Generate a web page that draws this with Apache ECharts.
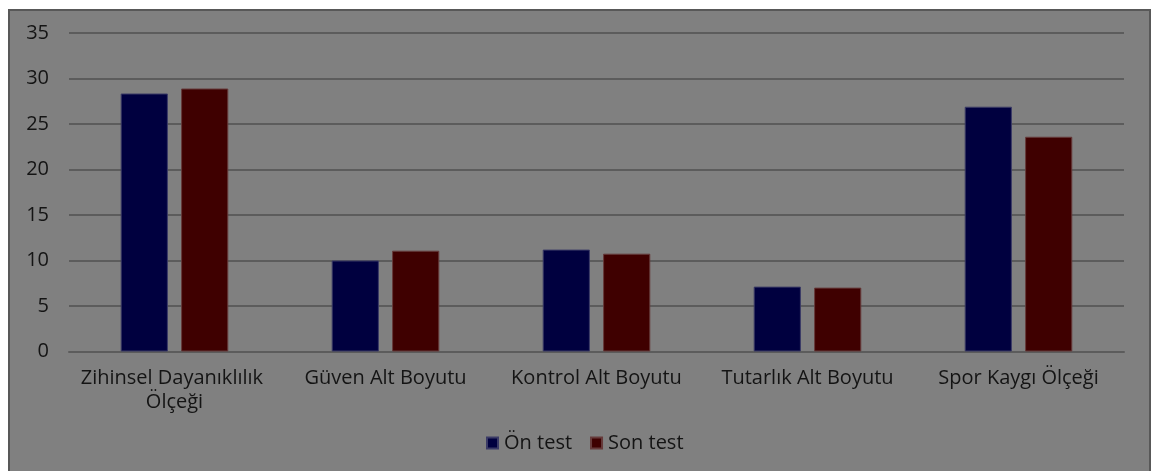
<!DOCTYPE html>
<html>
<head>
<meta charset="utf-8">
<script src="https://cdn.jsdelivr.net/npm/echarts@6/dist/echarts.min.js"></script>
<style>
  html, body { margin: 0; padding: 0; background: #ffffff; width: 1152px; height: 471px; overflow: hidden; }
  #frame {
    position: absolute; left: 8px; top: 9px;
    width: 1139px; height: 480px;
    border: 2px solid #585858;
    background: #808080;
  }
  #chart { width: 1139px; height: 480px; }
</style>
</head>
<body>
<div id="frame"><div id="chart"></div></div>
<script>
// Scale scores, pre-test vs post-test
const categories = [
  'Zihinsel Dayanıklılık Ölçeği',
  'Güven Alt Boyutu',
  'Kontrol Alt Boyutu',
  'Tutarlık Alt Boyutu',
  'Spor Kaygı Ölçeği'
];
const seriesNames = ['Ön test', 'Son test'];
const onTest  = [28.35, 10.0, 11.2, 7.13, 26.9];
const sonTest = [28.9, 11.08, 10.75, 7.02, 23.6];

const FONT = 'Open Sans';
const TEXT = '#141414';
const SIZE = 20;

const chart = echarts.init(document.getElementById('chart'), null, { renderer: 'canvas' });
chart.setOption({
  backgroundColor: 'transparent',
  textStyle: { fontFamily: FONT },
  grid: { left: 59, right: 25, top: 22, height: 318.5 },
  legend: {
    data: seriesNames,
    left: 471,
    top: 417,
    icon: 'rect',
    itemWidth: 11,
    itemHeight: 11,
    itemGap: 18,
    textStyle: { fontFamily: FONT, fontSize: SIZE, color: TEXT, padding: [0, 0, 0, 1] }
  },
  xAxis: {
    type: 'category',
    data: categories,
    axisLine: { show: true, lineStyle: { color: '#5c5c5c', width: 2 } },
    axisTick: { show: false },
    axisLabel: {
      interval: 0,
      margin: 15,
      fontFamily: FONT,
      fontSize: SIZE,
      color: TEXT,
      lineHeight: 24,
      width: 240,
      overflow: 'break'
    }
  },
  yAxis: {
    type: 'value',
    min: 0,
    max: 35,
    interval: 5,
    axisLine: { show: false },
    axisTick: { show: false },
    axisLabel: { margin: 20, fontFamily: FONT, fontSize: SIZE, color: TEXT },
    splitLine: { lineStyle: { color: '#5c5c5c', width: 2 } }
  },
  series: [
    {
      name: seriesNames[0],
      type: 'bar',
      data: onTest,
      barGap: '28%',
      barCategoryGap: '49%',
      itemStyle: { color: '#00003f', borderColor: '#3a3a66', borderWidth: 1 }
    },
    {
      name: seriesNames[1],
      type: 'bar',
      data: sonTest,
      itemStyle: { color: '#3f0000', borderColor: '#663a3a', borderWidth: 1 }
    }
  ]
});
</script>
</body>
</html>
